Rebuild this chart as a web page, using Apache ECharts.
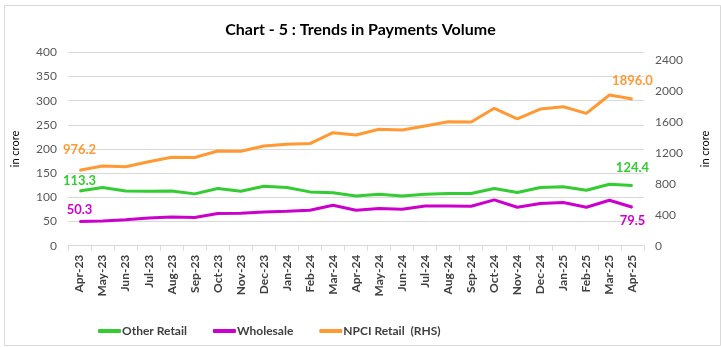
<!DOCTYPE html>
<html>
<head>
<meta charset="utf-8">
<script src="https://cdn.jsdelivr.net/npm/echarts@6/dist/echarts.min.js"></script>
<style>
html,body{margin:0;padding:0;background:#fff;}
#chart{width:721px;height:347px;}
</style>
</head>
<body>
<div id="chart"></div>
<script>
const categories = ['Apr-23','May-23','Jun-23','Jul-23','Aug-23','Sep-23','Oct-23','Nov-23','Dec-23','Jan-24','Feb-24','Mar-24','Apr-24','May-24','Jun-24','Jul-24','Aug-24','Sep-24','Oct-24','Nov-24','Dec-24','Jan-25','Feb-25','Mar-25','Apr-25'];
const otherRetail = [113.3,120.5,113.3,112.6,113.3,107.2,118.2,112.6,123.0,120.3,111.3,109.3,103.0,106.4,103.0,106.4,107.8,107.8,118.2,110.0,120.3,121.7,114.8,127.2,124.4];
const wholesale = [50.3,51.0,53.7,57.5,59.6,58.2,66.5,67.2,69.9,71.3,73.3,83.7,73.3,76.8,75.5,82.3,82.3,81.6,94.8,79.6,87.2,89.2,79.6,94.1,79.5];
const npciRetail = [976.2,1030,1021,1086,1143,1140,1224,1220,1289,1311,1320,1461,1431,1505,1496,1547,1603,1600,1776,1638,1767,1797,1711,1948,1896.0];
const leftTicks = [0,50,100,150,200,250,300,350,400];
const rightTicks = [0,400,800,1200,1600,2000,2400];

const FONT = 'Lato, "Open Sans", sans-serif';
const GREEN = '#33CC33', PURPLE = '#CC00CC', ORANGE = '#FF9933';

function labelled(values, color, first, last) {
  return values.map((v, i) => {
    const item = { value: v };
    const cfg = i === 0 ? first : (i === values.length - 1 ? last : null);
    if (cfg) {
      item.label = Object.assign({
        show: true, color: color, fontWeight: 'bold', fontSize: 13, fontFamily: FONT,
        formatter: p => Number(p.value).toFixed(1)
      }, cfg);
    }
    return item;
  });
}

const chart = echarts.init(document.getElementById('chart'), null, { renderer: 'canvas' });
chart.setOption({
  animation: false,
  backgroundColor: '#fff',
  graphic: [{
    type: 'rect', left: 2, top: 3,
    shape: { width: 716, height: 340 },
    style: { fill: 'none', stroke: '#d9d9d9', lineWidth: 1 }
  }],
  title: {
    text: 'Chart - 5 : Trends in Payments Volume',
    left: 'center', top: 17,
    textStyle: { fontFamily: FONT, fontWeight: 'bold', fontSize: 16, color: '#000' }
  },
  legend: {
    left: 93, top: 320,
    itemGap: 26, itemWidth: 23, itemHeight: 4,
    icon: 'roundRect',
    textStyle: { fontFamily: FONT, fontWeight: 'bold', fontSize: 12, color: '#404040', padding: [0,0,0,-4] },
    data: ['Other Retail', 'Wholesale', 'NPCI Retail  (RHS)']
  },
  grid: { left: 68, right: 77, top: 52.3, bottom: 101.3, containLabel: false },
  xAxis: {
    type: 'category', data: categories, boundaryGap: true,
    axisLine: { lineStyle: { color: '#d9d9d9' } },
    axisTick: { show: true, alignWithLabel: false, length: 5, lineStyle: { color: '#d9d9d9' } },
    axisLabel: { rotate: 90, interval: 0, margin: 9, fontFamily: FONT, fontWeight: 'bold', fontSize: 12, color: '#404040' }
  },
  yAxis: [{
    type: 'value', min: leftTicks[0], max: leftTicks[leftTicks.length-1], interval: leftTicks[1]-leftTicks[0],
    name: 'in crore', nameLocation: 'middle', nameGap: 47, nameRotate: 90,
    nameTextStyle: { fontFamily: FONT, fontSize: 11, color: '#000' },
    axisLine: { show: false }, axisTick: { show: false },
    axisLabel: { margin: 11, fontFamily: FONT, fontSize: 12, color: '#595959' },
    splitLine: { lineStyle: { color: '#d9d9d9' } }
  }, {
    type: 'value', min: rightTicks[0], max: 2500, interval: rightTicks[1]-rightTicks[0],
    name: 'in crore', nameLocation: 'middle', nameGap: 56, nameRotate: 90,
    nameTextStyle: { fontFamily: FONT, fontSize: 11, color: '#000' },
    axisLine: { show: false }, axisTick: { show: false },
    axisLabel: { margin: 11, fontFamily: FONT, fontSize: 12, color: '#595959', showMaxLabel: false, formatter: v => String(v) },
    splitLine: { show: false }
  }],
  series: [{
    name: 'Other Retail', type: 'line', yAxisIndex: 0, symbol: 'circle', symbolSize: 1, showSymbol: true,
    lineStyle: { color: GREEN, width: 3 }, itemStyle: { color: GREEN },
    data: labelled(otherRetail, GREEN, { position: 'top', distance: 3 }, { position: 'top', distance: 11 })
  }, {
    name: 'Wholesale', type: 'line', yAxisIndex: 0, symbol: 'circle', symbolSize: 1, showSymbol: true,
    lineStyle: { color: PURPLE, width: 3 }, itemStyle: { color: PURPLE },
    data: labelled(wholesale, PURPLE, { position: 'top', distance: 5 }, { position: 'bottom', distance: 7 })
  }, {
    name: 'NPCI Retail  (RHS)', type: 'line', yAxisIndex: 1, symbol: 'circle', symbolSize: 1, showSymbol: true,
    lineStyle: { color: ORANGE, width: 3 }, itemStyle: { color: ORANGE },
    data: labelled(npciRetail, ORANGE, { position: 'top', distance: 13 }, { position: 'top', distance: 11 })
  }]
});
</script>
</body>
</html>
